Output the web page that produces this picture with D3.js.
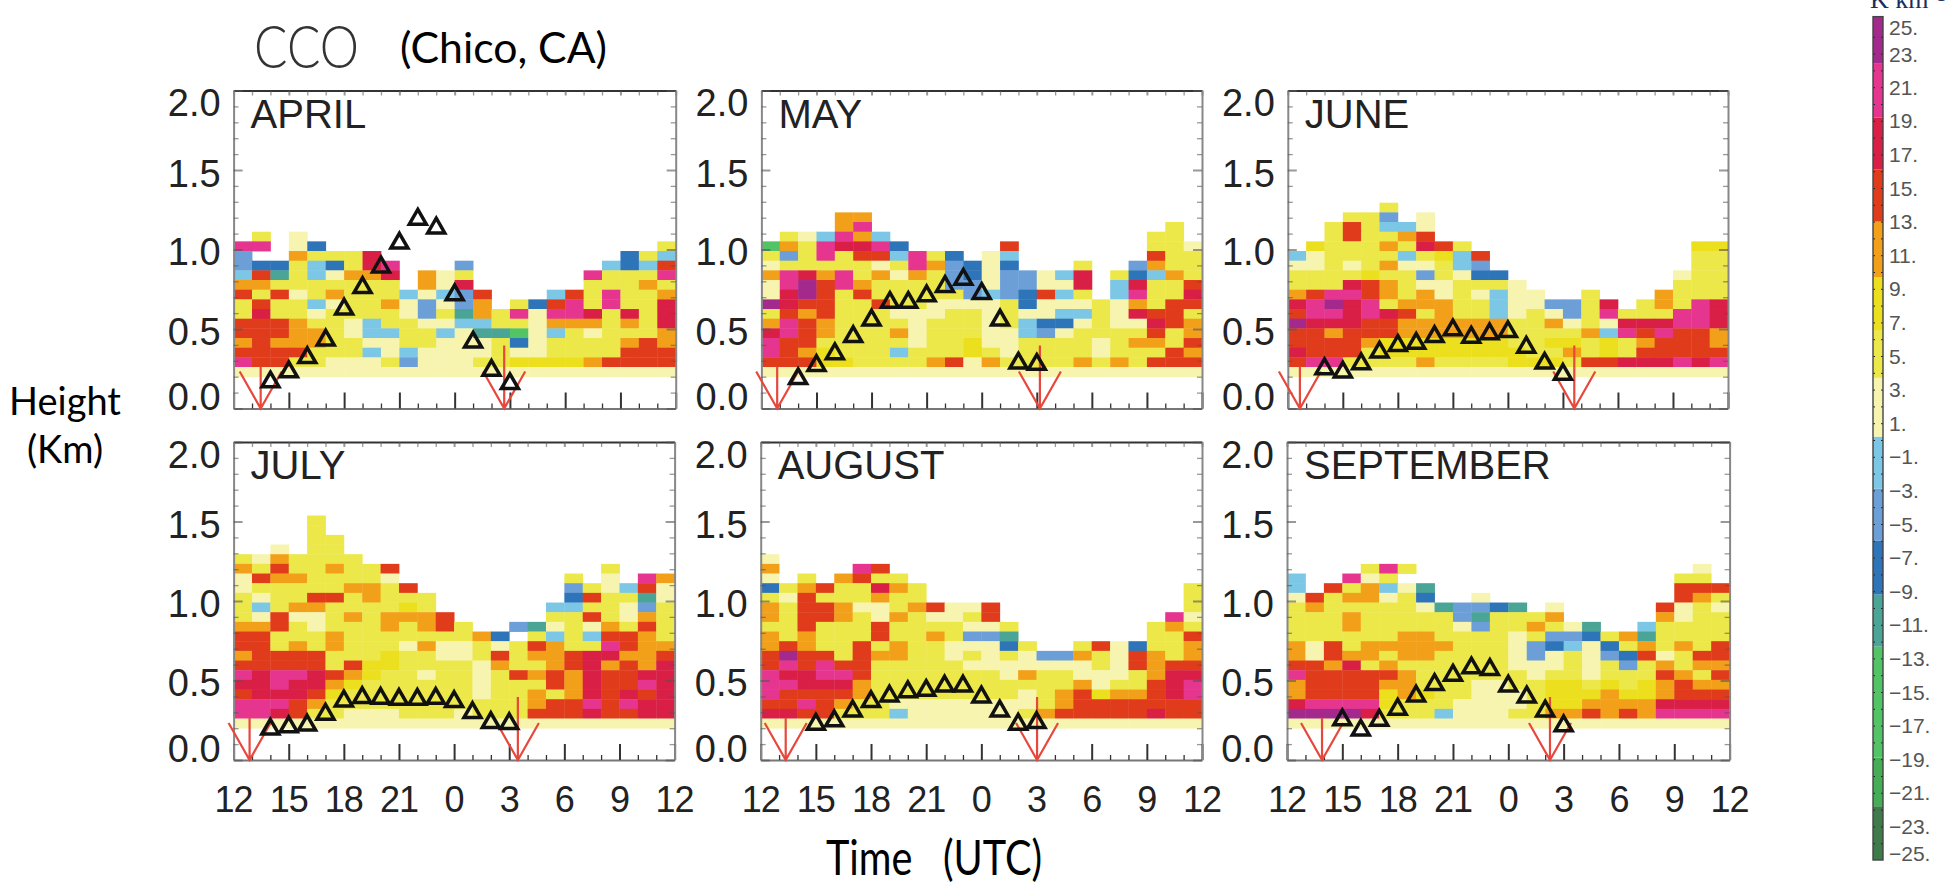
<!DOCTYPE html>
<html>
<head>
<meta charset="utf-8">
<title>CCO (Chico, CA)</title>
<script src="https://cdn.jsdelivr.net/npm/d3@7"></script>
<style>
  html, body { margin: 0; padding: 0; background: #fff; }
  svg { display: block; }
  .cells { filter: blur(0.5px); }
</style>
</head>
<body>
<div id="vis"></div>
<script>
// one letter per hourly cell, top row first, lowest row (0.2 km) last. "." = no data
var aprilCells = [
  ".y.p.. ...... ...... ......",
  "mm.pB. ...... ...... .....y",
  "b..oyy yc.... ...... ...Bys",
  "bBBysB ycm... b..... ..sBsr",
  "srtysp ooc.op y..... .myyym",
  "ooyyyy yyy.op c..... .yyyoy",
  "ryrpyo yyysps br...s rymyyo",
  "yryysp yyopbp bo.yBr mymyyc",
  "ycyypy yyypby toympm mcycyc",
  "rrroyy psyypp ssyypo ooyoyc",
  "rrrooy pssyys pttgps ypyyyo",
  "oroooy yppyyp ppyBpy yyyoro",
  "rrrryy yspspp ppyppy yyyrrr",
  "mrryyp ppybpp pyyYYY Yorrrr",
  "pppppp pppppp pppppp pppppp"
];
var mayCells = [
  "....oo ...... ...... ......",
  "....om ...... ...... ....y.",
  ".ypsmo s..... ...... ...yy.",
  "goymcc mB.... .r.... ...yyp",
  "ybymyr rsmyB. ps.... ...ryy",
  "pyyyyy pymobB pB...y ..boyy",
  "omcomy opoybB pbbpsc .yBsoy",
  "pmvrmo yyyybb pbbppc .scyyr",
  "pcvryr yyyyyb sbBrsy .smyyc",
  "vcrryy ryyppp pyBppp ypoyrr",
  "yroryy ypppyy pyppss ypcrry",
  "omroyy yypyyy pysBBp yppcro",
  "cmroyy yopyyy ppsbpy yyyryo",
  "mrryyy yypyyY ppyyyy pyooyr",
  "mroYyy ysyyyY ypyyyy pyyyro",
  "rrrYYy yyyorp oyyyyo yoyrrr",
  "pppppp pppppp pppppp pppppp"
];
var juneCells = [
  ".....y ...... ...... ......",
  "...yyb .p.... ...... ......",
  "..yrys sp.... ...... ......",
  "..yryy or.... ...... ......",
  ".Yyyyo ycry.. ...... ....YY",
  "spyyyy syYsr. ...... ....yy",
  "ppypyo ppysb. ...... ....yy",
  "yyyyYy ybypBB ...... ...pyy",
  "yyycro yppyyy p..... ...yyy",
  "ormmro yopyps pp..y. ..oyyy",
  "cmvcmy oooyys ppbbyc .yoymc",
  "rmmcmc ryoyys pypbym yyymmc",
  "vcccrr oooooo yyopyp cccmmc",
  "rrorrr oooooo yyyyos mrmrro",
  "rrrroY YYYYYY yyYYyY yorrro",
  "crrryY YYYYYY YyyoyY yrrrrr",
  "rmmyyy yoyyyy YYYyrr cccmcm",
  "pppppp pppppp pppppp pppppp"
];
var julyCells = [
  "....y. ...... ...... ......",
  "....y. ...... ...... ......",
  "....yy ...... ...... ......",
  "..p.yy ...... ...... ......",
  "ypoyyy y..... ...... ......",
  "oyryyo yyr... ...... ..y...",
  "prooyy yyp... ...... y.p.mo",
  "pyyyyy ooyr.. ...... bypsrp",
  "ypyyrr yoyyy. ...... Bryytp",
  "ysyooy yyyYy. .....s syypby",
  "yprppy oyooor .....y yrypoy",
  "oorypy yyoyor y..btp ypoyry",
  "rryyyo yyyyyy yoB.ys ysrroy",
  "rryoyo yyypop pypyro yymroo",
  "orrrry yyYyyp pyryoo rccoor",
  "rrrrry rYYyyy ypoyyo rcoroc",
  "mcmmcr oYyypy ypyror ocrrcc",
  "ccmcco Yyyyyy ypyyyr ocrrmc",
  "rcccrY yyyyyy ypyyoy ocrcrc",
  "mmmroy yyyyyy yyyyor rmrmcc",
  "mmcryy pppyyy pyyyrr rcrrcc",
  "pppppp pppppp pppppp pppppp"
];
var augustCells = [
  "p..... ...... ...... ......",
  "o....m r..... ...... ......",
  "p.y.or yy.... ...... ......",
  "Byoryy coy... ...... .....y",
  "ypryyy oyy... ...... .....y",
  "oyrrop pyorpp r..... .....y",
  "oyrroy poyppy r..... ....mp",
  "yyryyy ryyyyp py.... ...yoy",
  "oyoyyy ryyoyb bt.... ...yyr",
  "oroyyr yoyypp pBy..y rpByyo",
  "rvrryr ooyypy pypbbo yproyo",
  "rmrmrr yyyyyp pppppp yprorr",
  "mccmmr yyyyyy ypoyyp ppyocc",
  "mmccco yyyyyy yyyyyo pyyrcm",
  "mrrrro yyyyyy yypyor Yoorcm",
  "rrmroy yppppp pppyor rrrrrr",
  "ccrryy yspppp ppyorr rrrcrr",
  "pppppp pppppp pppppp pppppp"
];
var septemberCells = [
  "....ym y..... ...... ....p.",
  "s..mpy ...... ...... ...yy.",
  "s.ryos pt.... ...... ...rrr",
  "pryoop yB..p. ...... ...roy",
  "yoyyyy yptbbB t.p... ..rpyp",
  "yyyoyy yyybty yyo... ..opyy",
  "yyyoyy yyypby yoypt. .syyyy",
  "yyyyyy ooyyyy pybbBy otyyyy",
  "opryoo oooyyy pbBspB yoyoyr",
  "oprooy ooyyyy pbpypb Brpyrr",
  "rrocyo yyyyyy pppypy byoyoo",
  "mrrrrr oyyyyy ypyypy yyroyr",
  "orrrro oyyypp yyYYyY yYoroo",
  "orrrrY oYyypp pyYYYo YYorrr",
  "cmmmmY yyyppp pyYYoo oocccc",
  "vvvvcy yysppp yyooro rommmm",
  "pppppp pppppp pppppp pppppp"
];

// K/km value that each letter stands for
var letterKey   = ["p", "y", "Y", "o", "r", "c", "m", "v", "s", "b", "B", "t", "g"];
var letterValue = [2, 5, 8, 11, 14.5, 17.5, 21, 24, -1.5, -4.5, -8, -11, -15];

// triangles: first hour and heights (km) for each month, one per hour
var aprilStart = 14;
var aprilTri = [.167, .23, .32, .43, .625, .76, .89, 1.04, 1.19, 1.135, .715, .417, .24, .156];
var mayStart = 14;
var mayTri = [.1875, .27, .344, .452, .556, .667, .667, .708, .767, .8125, .723, .556, .285, .277];
var juneStart = 14;
var juneTri = [.25, .229, .281, .354, .396, .41, .452, .494, .448, .469, .483, .385, .285, .215];
var julyStart = 14;
var julyTri = [.194, .208, .219, .2875, .371, .392, .3875, .381, .381, .3875, .367, .298, .235, .229];
var augustStart = 15;
var augustTri = [.225, .246, .308, .367, .402, .429, .4375, .465, .465, .396, .308, .225, .235];
var septemberStart = 15;
var septemberTri = [.252, .1875, .25, .319, .402, .475, .533, .579, .569, .465, .396, .308, .215];

// red arrows: hour of first and second arrow (hours counted on from 12 UTC)
var aprilArrows = [13.47, 26.69];
var mayArrows = [12.86, 27.17];
var juneArrows = [12.66, 27.62];
var julyArrows = [12.87, 27.47];
var augustArrows = [13.36, 27.03];
var septemberArrows = [13.9, 26.26];

var monthNames = ["APRIL", "MAY", "JUNE", "JULY", "AUGUST", "SEPTEMBER"];
var heightTicks = [0, 0.5, 1, 1.5, 2];
var hourTicks = [12, 15, 18, 21, 24, 27, 30, 33, 36];
var hourLabels = ["12", "15", "18", "21", "0", "3", "6", "9", "12"];

// colour bar
var barThresholds = [-21.8, -18.9, -12.3, -9.2, -6, -2.9, 0.2, 3.7, 6.5, 9.7, 13, 16.1, 19.2, 22.4];
var barColors = ["#3f7a4a", "#45ad55", "#52c465", "#4aa596", "#2e74b8", "#6c9fd8", "#7cc6e6",
                 "#f6f4ae", "#ece84a", "#ecdf1e", "#f2a01a", "#e03c1c", "#d91f45", "#e6358f", "#a32a8c"];
var barLabels = [25, 23, 21, 19, 17, 15, 13, 11, 9, 7, 5, 3, 1, -1, -3, -5, -7, -9, -11, -13, -15, -17, -19, -21, -23, -25];

var panels = [
  {name: 0, cells: aprilCells, start: aprilStart, tri: aprilTri, arrows: aprilArrows, left: 233.6, right: 675.7, top: 90.5, bottom: 408.5},
  {name: 1, cells: mayCells, start: mayStart, tri: mayTri, arrows: mayArrows, left: 761.4, right: 1202, top: 90.5, bottom: 408.5},
  {name: 2, cells: juneCells, start: juneStart, tri: juneTri, arrows: juneArrows, left: 1287.8, right: 1728, top: 90.5, bottom: 408.5},
  {name: 3, cells: julyCells, start: julyStart, tri: julyTri, arrows: julyArrows, left: 233.6, right: 674.6, top: 442, bottom: 760},
  {name: 4, cells: augustCells, start: augustStart, tri: augustTri, arrows: augustArrows, left: 760.7, right: 1202, top: 442, bottom: 760},
  {name: 5, cells: septemberCells, start: septemberStart, tri: septemberTri, arrows: septemberArrows, left: 1287, right: 1729.6, top: 442, bottom: 760}
];

var rowBase = 0.2, rowStep = 0.0608;

var svg = d3.select("#vis")
    .append("svg")
    .attr("width", 1950)
    .attr("height", 886);

var color = d3.scaleThreshold().domain(barThresholds).range(barColors);
var valueOf = d3.scaleOrdinal().domain(letterKey).range(letterValue);

var font = "'Liberation Sans', Arial, sans-serif";

panels.forEach(function (p) {
    var x = d3.scaleLinear().domain([12, 36]).range([p.left, p.right]);
    var y = d3.scaleLinear().domain([0, 2]).range([p.bottom, p.top]);
    var g = svg.append("g");

    // cells
    var cellData = [];
    p.cells.forEach(function (row, i) {
        var letters = row.replace(/ /g, "");
        var level = p.cells.length - 1 - i;
        for (var c = 0; c < letters.length; c++) {
            if (letters[c] !== ".") {
                cellData.push({hour: 12 + c, level: level, value: valueOf(letters[c])});
            }
        }
    });
    g.append("g").attr("class", "cells")
        .selectAll("rect")
        .data(cellData)
        .enter().append("rect")
        .attr("x", function (d) { return x(d.hour); })
        .attr("width", function (d) { return x(d.hour + 1) - x(d.hour) + 0.4; })
        .attr("y", function (d) { return y(rowBase + rowStep * (d.level + 1)); })
        .attr("height", y(0) - y(rowStep) + 0.4)
        .attr("fill", function (d) { return color(d.value); });

    // frame ticks
    var hours = d3.range(12, 37);
    var tenths = d3.range(0, 2.01, 0.1);
    function isMajorH(d) { return hourTicks.indexOf(d) >= 0; }
    function isMajorV(d) { return heightTicks.indexOf(+d.toFixed(1)) >= 0; }
    function styleAxis(sel, major, domainColor) {
        sel.selectAll(".tick line")
            .attr("stroke-width", function (d) { return major(d) ? 2 : 1.3; })
            .attr("stroke", "#555");
        sel.selectAll(".domain").attr("stroke", domainColor).attr("stroke-width", 2);
    }

    var bottom = g.append("g").attr("transform", "translate(0," + p.bottom + ")")
        .call(d3.axisBottom(x).tickValues(hours).tickFormat("").tickSizeOuter(0));
    bottom.selectAll(".tick line").attr("y2", function (d) { return isMajorH(d) ? -16 : -5; });
    bottom.call(styleAxis, isMajorH, "#777");
    bottom.selectAll(".tick line").attr("stroke", "#333");

    var topAxis = g.append("g").attr("transform", "translate(0," + p.top + ")")
        .call(d3.axisTop(x).tickValues(hours).tickFormat("").tickSizeOuter(0));
    topAxis.selectAll(".tick line").attr("y2", 5).attr("opacity", 0.6);
    topAxis.call(styleAxis, isMajorH, "#333");

    var leftAxis = g.append("g").attr("transform", "translate(" + p.left + ",0)")
        .call(d3.axisLeft(y).tickValues(tenths).tickFormat("").tickSizeOuter(0));
    leftAxis.selectAll(".tick line").attr("x2", function (d) { return isMajorV(d) ? 9 : 5; }).attr("opacity", 0.6);
    leftAxis.call(styleAxis, isMajorV, "#888");

    var rightAxis = g.append("g").attr("transform", "translate(" + p.right + ",0)")
        .call(d3.axisRight(y).tickValues(tenths).tickFormat("").tickSizeOuter(0));
    rightAxis.selectAll(".tick line").attr("x2", function (d) { return isMajorV(d) ? -9 : -5; }).attr("opacity", 0.6);
    rightAxis.call(styleAxis, isMajorV, "#888");

    // height labels (the end ones sit inside the frame height)
    var labelShift = {0: -12, 0.5: 2, 1: 2, 1.5: 3, 2: 12};
    g.selectAll(".hlabel")
        .data(heightTicks)
        .enter().append("text")
        .attr("class", "hlabel")
        .attr("x", p.left - 13)
        .attr("y", function (d) { return y(d) + labelShift[d]; })
        .attr("dy", "0.36em")
        .attr("text-anchor", "end")
        .attr("font-family", font)
        .attr("font-size", 38)
        .attr("fill", "#222")
        .text(function (d) { return d.toFixed(1); });

    // hour labels, bottom row only
    if (p.name >= 3) {
        g.selectAll(".xlabel")
            .data(hourTicks)
            .enter().append("text")
            .attr("class", "xlabel")
            .attr("x", function (d) { return x(d); })
            .attr("y", 812)
            .attr("text-anchor", "middle")
            .attr("font-family", font)
            .attr("font-size", 36)
            .attr("letter-spacing", -1)
            .attr("fill", "#222")
            .text(function (d, i) { return hourLabels[i]; });
    }

    // month name
    g.append("text")
        .attr("x", p.left + 17)
        .attr("y", p.top + 37)
        .attr("font-family", font)
        .attr("font-size", 40)
        .attr("fill", "#222")
        .text(monthNames[p.name]);

    // red arrows, tip on the axis
    p.arrows.forEach(function (h, i) {
        var shaft = i === 0 ? 42 : 63;
        var path = d3.path();
        path.moveTo(x(h), y(0));
        path.lineTo(x(h), y(0) - shaft);
        path.moveTo(x(h) - 21, y(0) - 37);
        path.lineTo(x(h), y(0));
        path.lineTo(x(h) + 21, y(0) - 37);
        g.append("path")
            .attr("d", path.toString())
            .attr("fill", "none")
            .attr("stroke", "#e8473c")
            .attr("stroke-width", 2.2);
    });

    // triangles
    var tri = d3.symbol().type(d3.symbolTriangle).size(125);
    g.selectAll(".tri")
        .data(p.tri)
        .enter().append("path")
        .attr("class", "tri")
        .attr("d", tri)
        .attr("transform", function (d, i) { return "translate(" + x(p.start + i) + "," + y(d) + ")"; })
        .attr("fill", "none")
        .attr("stroke", "#111")
        .attr("stroke-width", 3.5);
});

// titles
svg.append("text")
    .attr("x", 254).attr("y", 68)
    .attr("font-family", "Lato, sans-serif")
    .attr("font-weight", 300)
    .attr("font-size", 60)
    .attr("textLength", 105)
    .attr("lengthAdjust", "spacingAndGlyphs")
    .attr("fill", "#333")
    .text("CCO");

svg.append("text")
    .attr("x", 400).attr("y", 63)
    .attr("font-family", "Lato, sans-serif")
    .attr("font-size", 43)
    .attr("textLength", 207)
    .attr("lengthAdjust", "spacingAndGlyphs")
    .attr("fill", "#000")
    .text("(Chico, CA)");

svg.append("text")
    .attr("x", 65).attr("y", 415)
    .attr("text-anchor", "middle")
    .attr("font-family", "Lato, sans-serif")
    .attr("font-size", 38)
    .text("Height");

svg.append("text")
    .attr("x", 65).attr("y", 463)
    .attr("text-anchor", "middle")
    .attr("font-family", "Lato, sans-serif")
    .attr("font-size", 38)
    .text("(Km)");

svg.append("text")
    .attr("x", 826).attr("y", 875)
    .attr("font-family", "Lato, sans-serif")
    .attr("font-size", 48)
    .attr("textLength", 216)
    .attr("lengthAdjust", "spacingAndGlyphs")
    .style("white-space", "pre")
    .text("Time   (UTC)");

// colour bar
var barY = d3.scaleLinear().domain([-25, 25]).range([860, 20]);
var bar = svg.append("g");
var barX = 1873, barW = 10;

bar.selectAll("rect")
    .data(barColors)
    .enter().append("rect")
    .attr("x", barX)
    .attr("width", barW)
    .attr("y", function (d) {
        var e = color.invertExtent(d);
        return barY(e[1] === undefined ? 25.2 : e[1]);
    })
    .attr("height", function (d) {
        var e = color.invertExtent(d);
        return barY(e[0] === undefined ? -25 : e[0]) - barY(e[1] === undefined ? 25.2 : e[1]);
    })
    .attr("fill", function (d) { return d; });

var barTicks = bar.append("g").attr("transform", "translate(" + barX + ",0)")
    .call(d3.axisRight(barY).tickValues(d3.range(-24, 25)).tickFormat("").tickSize(2).tickSizeOuter(0));
barTicks.selectAll(".domain").remove();
barTicks.selectAll(".tick line").attr("stroke", "#222");

var barTicksR = bar.append("g").attr("transform", "translate(" + (barX + barW) + ",0)")
    .call(d3.axisLeft(barY).tickValues(d3.range(-24, 25)).tickFormat("").tickSize(2).tickSizeOuter(0));
barTicksR.selectAll(".domain").remove();
barTicksR.selectAll(".tick line").attr("stroke", "#222");

bar.append("rect")
    .attr("x", barX).attr("y", barY(25.2))
    .attr("width", barW).attr("height", barY(-25) - barY(25.2))
    .attr("fill", "none").attr("stroke", "#444").attr("stroke-width", 1.4);

var barShift = {25: 7, 23: 1, "-25": -7};
bar.selectAll(".blabel")
    .data(barLabels)
    .enter().append("text")
    .attr("class", "blabel")
    .attr("x", 1889)
    .attr("y", function (d) { return barY(d) + (barShift[d] || 0); })
    .attr("dy", "0.36em")
    .attr("font-family", font)
    .attr("font-size", 21)
    .attr("fill", "#555")
    .text(function (d) { return (d < 0 ? "\u2212" : "") + Math.abs(d) + "."; });

svg.append("text")
    .attr("x", 1870).attr("y", 8)
    .attr("font-family", "'Liberation Serif', serif")
    .attr("font-size", 26)
    .attr("fill", "#1c2c5c")
    .text("K km\u207B\u00B9");
</script>
</body>
</html>
